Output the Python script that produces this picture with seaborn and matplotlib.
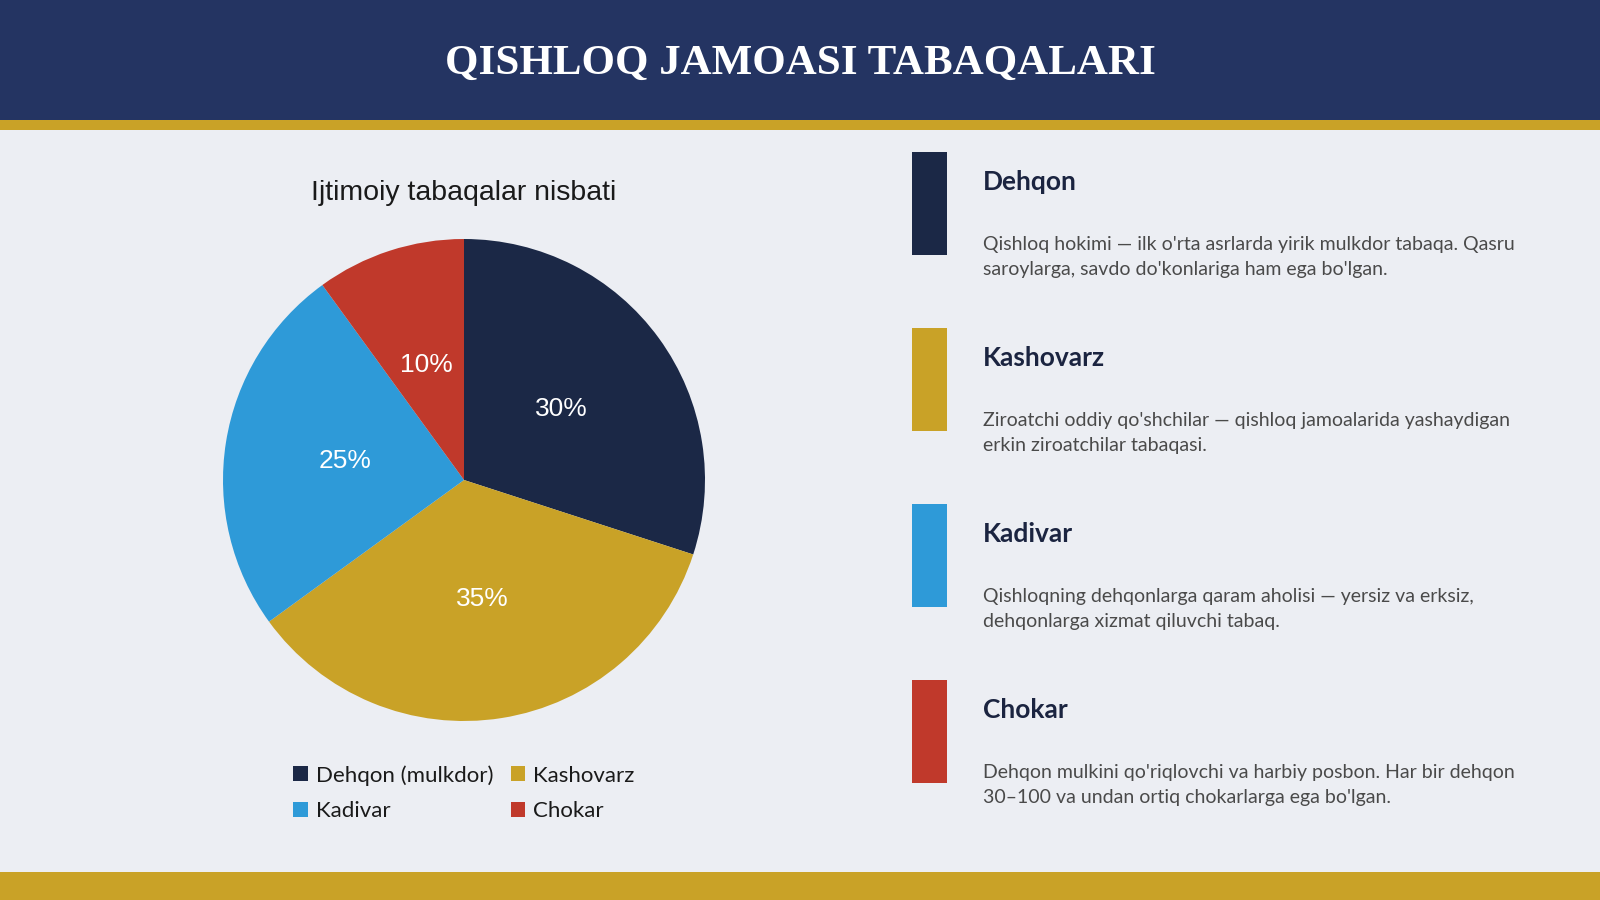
import matplotlib
matplotlib.use("Agg")
import matplotlib.pyplot as plt
from matplotlib.patches import Rectangle, Patch
import seaborn as sns

# ---- data ----
categories = ["Dehqon", "Kashovarz", "Kadivar", "Chokar"]
legend_labels = ["Dehqon (mulkdor)", "Kashovarz", "Kadivar", "Chokar"]
shares = [30, 35, 25, 10]
colors = ["#1b2846", "#c9a227", "#2e9ad8", "#c0392b"]
descriptions = [
    "Qishloq hokimi — ilk o'rta asrlarda yirik mulkdor tabaqa. Qasru\nsaroylarga, savdo do'konlariga ham ega bo'lgan.",
    "Ziroatchi oddiy qo'shchilar — qishloq jamoalarida yashaydigan\nerkin ziroatchilar tabaqasi.",
    "Qishloqning dehqonlarga qaram aholisi — yersiz va erksiz,\ndehqonlarga xizmat qiluvchi tabaq.",
    "Dehqon mulkini qo'riqlovchi va harbiy posbon. Har bir dehqon\n30–100 va undan ortiq chokarlarga ega bo'lgan.",
]
title = "QISHLOQ JAMOASI TABAQALARI"
pie_title = "Ijtimoiy tabaqalar nisbati"

sns.set_style("white")
palette = sns.color_palette(colors)

W, H = 1600, 900
BG = "#eceef3"
NAVY = "#243462"
GOLD = "#c9a227"

fig = plt.figure(figsize=(16, 9), dpi=100)
fig.patch.set_facecolor(BG)

def fx(x):
    return x / W

def fy(y):
    return 1 - y / H

# header
fig.patches.append(Rectangle((0, fy(120)), 1, 120 / H, transform=fig.transFigure,
                             facecolor=NAVY, edgecolor="none", zorder=0))
fig.patches.append(Rectangle((0, fy(130)), 1, 10 / H, transform=fig.transFigure,
                             facecolor=GOLD, edgecolor="none", zorder=0))
# footer
fig.patches.append(Rectangle((0, 0), 1, 28 / H, transform=fig.transFigure,
                             facecolor=GOLD, edgecolor="none", zorder=0))

fig.text(0.5, fy(64), title, ha="center", va="center", color="white",
         fontsize=31, fontweight="bold", family=["Liberation Serif"])

# pie
cx, cy, R = 464, 480, 241
ax = fig.add_axes([fx(cx - R), fy(cy + R), 2 * R / W, 2 * R / H])
ax.set_facecolor("none")
wedges, texts, autotexts = ax.pie(
    shares, colors=palette, startangle=90, counterclock=False,
    autopct="%d%%", pctdistance=0.5, radius=1,
    textprops=dict(color="white", fontsize=19, family=["Liberation Sans"]),
    wedgeprops=dict(linewidth=0),
)
ax.set_xlim(-1, 1)
ax.set_ylim(-1, 1)
ax.set_aspect("equal")
ax.axis("off")

fig.text(fx(464), fy(193), pie_title, ha="center", va="center", color="#1a1a1a",
         fontsize=20.5, family=["Liberation Sans"])

# legend filled row by row: reorder for matplotlib's column-major fill
handles = [Patch(facecolor=c, edgecolor="none", label=l) for c, l in zip(palette, legend_labels)]
ncol = 2
nrow = (len(handles) + ncol - 1) // ncol
ordered = [handles[r * ncol + c] for c in range(ncol) for r in range(nrow) if r * ncol + c < len(handles)]
leg = fig.legend(handles=ordered, loc="center", bbox_to_anchor=(fx(464), fy(793)),
                 ncol=ncol, frameon=False, handlelength=0.65, handleheight=0.65,
                 handletextpad=0.35, columnspacing=0.8, labelspacing=0.7,
                 prop=dict(family="Lato", size=16))
for t in leg.get_texts():
    t.set_color("#1a1a1a")

# right side blocks
bar_tops = [152, 328, 504, 680]
for i, (cat, desc, col) in enumerate(zip(categories, descriptions, palette)):
    top = bar_tops[i]
    fig.patches.append(Rectangle((fx(912), fy(top + 103)), 35 / W, 103 / H,
                                 transform=fig.transFigure, facecolor=col,
                                 edgecolor="none", zorder=1))
    fig.text(fx(983), fy(top + 30), cat, ha="left", va="center", color="#1b2440",
             fontsize=19, fontweight="bold", family=["Lato"])
    fig.text(fx(983), fy(top + 105), desc, ha="left", va="center", color="#4a4a4a",
             fontsize=14, family=["Lato"], linespacing=1.55)

fig.savefig("out.png", dpi=100, facecolor=BG)
